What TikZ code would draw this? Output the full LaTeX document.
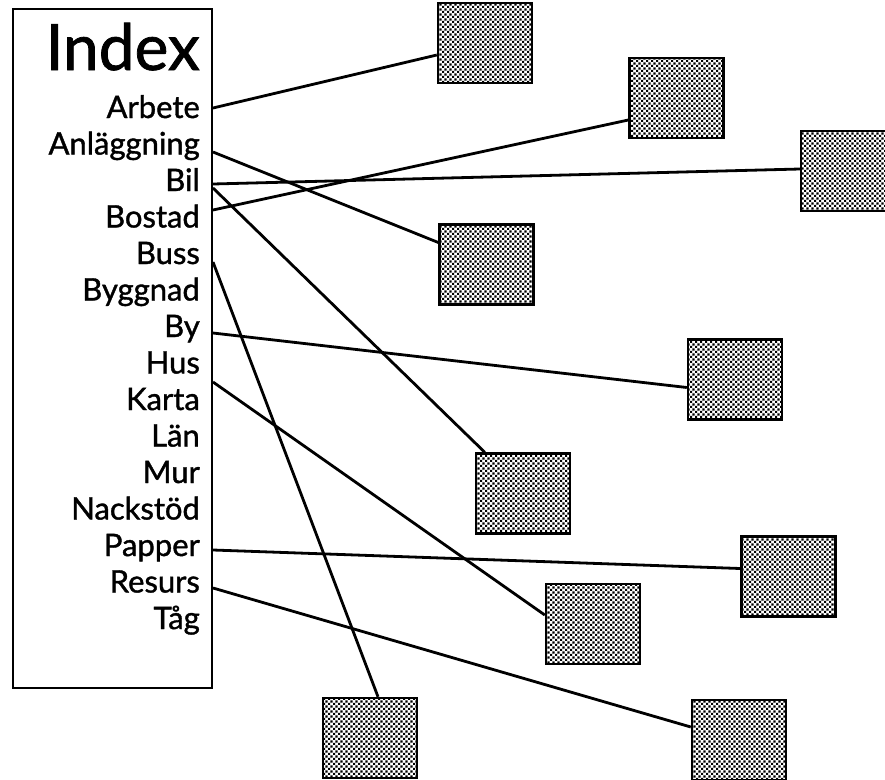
\documentclass[tikz,border=0pt]{standalone}
\usepackage{fontspec}
\setmainfont{Lato}[FakeBold=1.2]
\usetikzlibrary{patterns,calc}
\pgfdeclarepatternformonly{chk}{\pgfpointorigin}{\pgfqpoint{5.4pt}{5.4pt}}{\pgfqpoint{5.4pt}{5.4pt}}{%
  \pgfpathrectangle{\pgfpointorigin}{\pgfqpoint{2.3pt}{2.3pt}}%
  \pgfpathrectangle{\pgfqpoint{2.7pt}{2.7pt}}{\pgfqpoint{2.3pt}{2.3pt}}%
  \pgfusepath{fill}}
\begin{document}
\begin{tikzpicture}[x=1pt,y=-1pt,
  sqbox/.style={draw, line width=2.4pt, pattern=chk, minimum width=94pt, minimum height=80pt, inner sep=0pt},
  lbl/.style={anchor=base east, inner sep=0pt, font=\fontsize{31}{31}\selectfont},
  conn/.style={line width=2.8pt}]
\useasboundingbox (0,0) rectangle (885,779);
\fill[white] (0,0) rectangle (885,779);
% index box
\node[draw, line width=2pt, minimum width=199pt, minimum height=679pt, anchor=north west, inner sep=0pt] (box) at (12,8) {};
\node[anchor=base east, inner sep=0pt, font=\fontsize{64}{64}\selectfont] (title) at (200,70) {Index};
\node[lbl] (l1) at (200,118) {Arbete};
\node[lbl] (l2) at (200,154.5) {Anläggning};
\node[lbl] (l3) at (200,191) {Bil};
\node[lbl] (l4) at (200,227.5) {Bostad};
\node[lbl] (l5) at (200,264) {Buss};
\node[lbl] (l6) at (200,300.5) {Byggnad};
\node[lbl] (l7) at (200,337) {By};
\node[lbl] (l8) at (200,373.5) {Hus};
\node[lbl] (l9) at (200,410) {Karta};
\node[lbl] (l10) at (200,446.5) {Län};
\node[lbl] (l11) at (200,483) {Mur};
\node[lbl] (l12) at (200,519.5) {Nackstöd};
\node[lbl] (l13) at (200,556) {Papper};
\node[lbl] (l14) at (200,592.5) {Resurs};
\node[lbl] (l15) at (200,629) {Tåg};
% squares
\node[sqbox] (sq1) at (485,43) {};
\node[sqbox] (sq2) at (676.5,98) {};
\node[sqbox] (sq3) at (848,171) {};
\node[sqbox] (sq4) at (486.5,264.5) {};
\node[sqbox] (sq5) at (735,379.5) {};
\node[sqbox] (sq6) at (523,493.5) {};
\node[sqbox] (sq7) at (788.5,576.5) {};
\node[sqbox] (sq8) at (593,624) {};
\node[sqbox] (sq9) at (370,738) {};
\node[sqbox] (sq10) at (739,740) {};
% start points on the box edge
\coordinate (s1) at (box.east |- 0,108);
\coordinate (s2) at (box.east |- 0,152);
\coordinate (s3) at (box.east |- 0,184);
\coordinate (s3b) at (box.east |- 0,188);
\coordinate (s4) at (box.east |- 0,210);
\coordinate (s5) at (box.east |- 0,262);
\coordinate (s7) at (box.east |- 0,333);
\coordinate (s8) at (box.east |- 0,382);
\coordinate (s13) at (box.east |- 0,550);
\coordinate (s14) at (box.east |- 0,588);
% connectors
\draw[conn] (s1) -- ($(sq1.west)+(0,12)$);
\draw[conn] (s2) -- ($(sq4.west)+(0,-22)$);
\draw[conn] (s3) -- ($(sq3.west)+(0,-2)$);
\draw[conn] (s3b) -- ($(sq6.north west)+(10,0)$);
\draw[conn] (s4) -- ($(sq2.west)+(0,22)$);
\draw[conn] (s5) -- ($(sq9.north)+(8,0)$);
\draw[conn] (s7) -- ($(sq5.west)+(0,8)$);
\draw[conn] (s8) -- ($(sq8.west)+(0,-9)$);
\draw[conn] (s13) -- ($(sq7.west)+(0,-8)$);
\draw[conn] (s14) -- ($(sq10.west)+(0,-13)$);
\end{tikzpicture}
\end{document}
